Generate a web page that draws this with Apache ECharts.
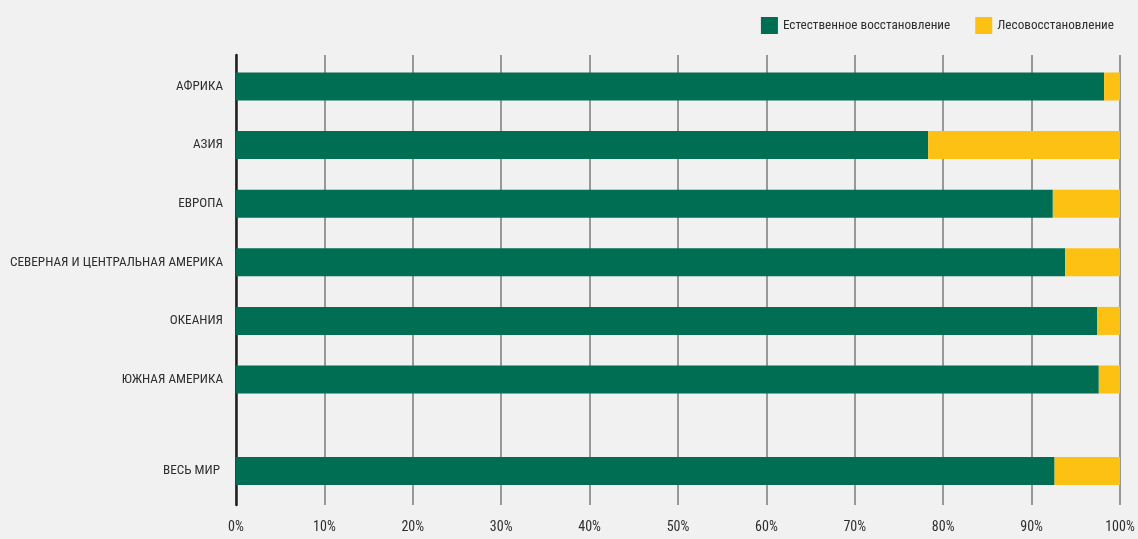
<!DOCTYPE html>
<html>
<head>
<meta charset="utf-8">
<script src="https://cdn.jsdelivr.net/npm/echarts@6/dist/echarts.min.js"></script>
<style>
html,body{margin:0;padding:0;background:#f1f1f1;}
#c{width:1138px;height:539px;}
</style>
</head>
<body>
<div id="c"></div>
<script>
const regions = ['АФРИКА','АЗИЯ','ЕВРОПА','СЕВЕРНАЯ И ЦЕНТРАЛЬНАЯ АМЕРИКА','ОКЕАНИЯ','ЮЖНАЯ АМЕРИКА'];
const regionsNatural = [98.2, 78.3, 92.4, 93.8, 97.4, 97.6];
const regionsPlanted = [1.8, 21.7, 7.6, 6.2, 2.6, 2.4];
const world = ['ВЕСЬ МИР'];
const worldNatural = [92.6];
const worldPlanted = [7.4];
const seriesNames = ['Естественное восстановление', 'Лесовосстановление'];
const xMin = 0, xMax = 100, xStep = 10;

const FONT = "'Roboto Condensed', 'Liberation Sans', sans-serif";
const GREEN = '#006e52';
const YELLOW = '#fcc112';
const TXT = '#2e2e2e';

const chart = echarts.init(document.getElementById('c'));
const hiddenX = (gi) => ({type:'value', gridIndex:gi, min:xMin, max:xMax, interval:xStep, show:false});
chart.setOption({
  backgroundColor:'#f1f1f1',
  animation:false,
  textStyle:{fontFamily:FONT},
  legend:{
    data:seriesNames, right:19, top:12, itemWidth:17, itemHeight:17, itemGap:25,
    icon:'rect',
    textStyle:{fontFamily:FONT, fontSize:13.2, color:TXT}
  },
  grid:[
    {left:236, right:18, top:55, bottom:34, outerBoundsMode:'none', containLabel:false},
    {left:236, right:18, top:57.2, height:351.6, outerBoundsMode:'none', containLabel:false},
    {left:236, right:18, top:441.7, height:58.6, outerBoundsMode:'none', containLabel:false}
  ],
  xAxis:[
    {type:'value', gridIndex:0, min:xMin, max:xMax, interval:xStep,
     axisLine:{show:false}, axisTick:{show:false},
     axisLabel:{formatter:'{value}%', color:TXT, fontFamily:FONT, fontSize:14, margin:15},
     splitLine:{show:true, lineStyle:{color:'#7a7a7a', width:1.5}}},
    hiddenX(1), hiddenX(2)
  ],
  yAxis:[
    {type:'category', gridIndex:0, data:[''], axisTick:{show:false}, axisLabel:{show:false},
     axisLine:{show:true, lineStyle:{color:'#1e1e1e', width:2.5}}},
    {type:'category', gridIndex:1, data:regions, inverse:true, axisLine:{show:false}, axisTick:{show:false},
     axisLabel:{color:TXT, fontFamily:FONT, fontSize:13.2, margin:13}},
    {type:'category', gridIndex:2, data:world, axisLine:{show:false}, axisTick:{show:false},
     axisLabel:{color:TXT, fontFamily:FONT, fontSize:13.2, margin:16}}
  ],
  series:[
    {name:seriesNames[0], type:'bar', stack:'r', xAxisIndex:1, yAxisIndex:1, data:regionsNatural, barWidth:28, itemStyle:{color:GREEN}},
    {name:seriesNames[1], type:'bar', stack:'r', xAxisIndex:1, yAxisIndex:1, data:regionsPlanted, barWidth:28, itemStyle:{color:YELLOW}},
    {name:seriesNames[0], type:'bar', stack:'w', xAxisIndex:2, yAxisIndex:2, data:worldNatural, barWidth:28, itemStyle:{color:GREEN}},
    {name:seriesNames[1], type:'bar', stack:'w', xAxisIndex:2, yAxisIndex:2, data:worldPlanted, barWidth:28, itemStyle:{color:YELLOW}}
  ]
});
</script>
</body>
</html>
